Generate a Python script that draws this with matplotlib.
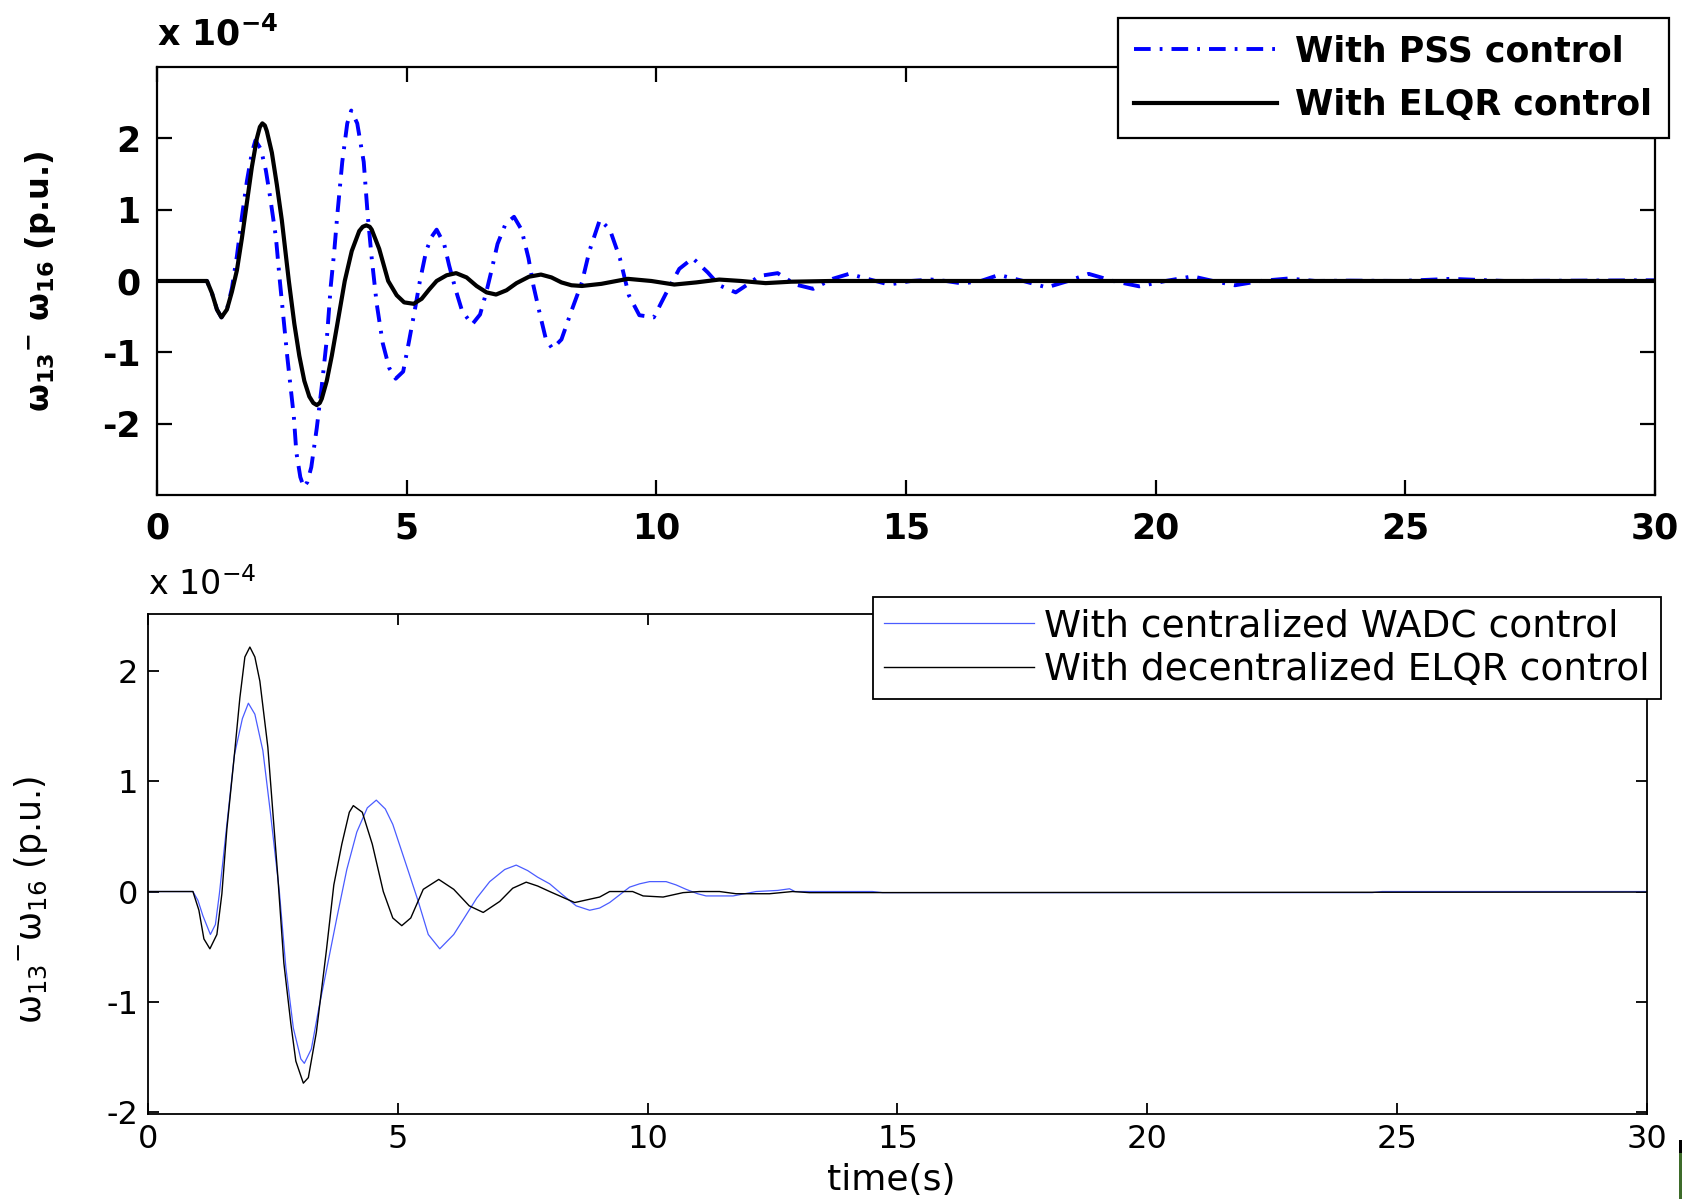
import matplotlib
matplotlib.use("Agg")
import matplotlib.pyplot as plt
from matplotlib.patches import Rectangle

plt.rcParams["font.family"] = ["DejaVu Sans"]
plt.rcParams["mathtext.fontset"] = "dejavusans"
plt.rcParams["lines.scale_dashes"] = False
plt.rcParams["axes.unicode_minus"] = False

# ---- top panel: PSS vs ELQR (values in units of 1e-4 p.u.) ----
t_elqr = [0, 1.0, 1.1, 1.2, 1.29, 1.4, 1.5, 1.6, 1.7, 1.8, 1.9, 2.0, 2.06, 2.11, 2.16, 2.2, 2.3,
          2.4, 2.5, 2.64, 2.75, 2.85, 2.95, 3.05, 3.13, 3.2, 3.26, 3.3, 3.4, 3.5, 3.6, 3.76, 3.9,
          4.05, 4.12, 4.19, 4.26, 4.3, 4.45, 4.63, 4.8, 4.95, 5.14, 5.3, 5.45, 5.6, 5.8, 5.99, 6.2,
          6.4, 6.6, 6.79, 7.0, 7.2, 7.45, 7.69, 7.9, 8.1, 8.3, 8.51, 8.9, 9.43, 9.9,
          10.36, 10.8, 11.26, 11.7, 12.19, 12.7, 13.5, 30]
v_elqr = [0, 0, -0.17, -0.4, -0.51, -0.4, -0.15, 0.15, 0.6, 1.1, 1.6, 2.0, 2.16, 2.21, 2.18, 2.1, 1.8,
          1.35, 0.85, 0.0, -0.6, -1.05, -1.4, -1.62, -1.71, -1.74, -1.71, -1.65, -1.4, -1.05, -0.65, 0.0, 0.42,
          0.7, 0.76, 0.78, 0.76, 0.72, 0.45, 0.0, -0.2, -0.3, -0.32, -0.25, -0.12, 0.0, 0.08, 0.11, 0.05,
          -0.07, -0.16, -0.19, -0.13, -0.03, 0.06, 0.09, 0.05, -0.02, -0.06, -0.07, -0.04, 0.03, 0.0,
          -0.05, -0.02, 0.02, 0.0, -0.03, -0.01, 0.0, 0.0]

t_pss = [0, 1.0, 1.1, 1.2, 1.29, 1.4, 1.5, 1.6, 1.7, 1.8, 1.9, 1.97, 2.08, 2.18, 2.26, 2.38,
         2.46, 2.61, 2.74, 2.79, 2.87, 2.94, 3.01, 3.09, 3.2, 3.3, 3.4, 3.48, 3.55, 3.61, 3.71, 3.81,
         3.89, 4.01, 4.14, 4.22, 4.3, 4.4, 4.52, 4.65, 4.78, 4.93, 5.04, 5.16, 5.26, 5.39,
         5.5, 5.6, 5.75, 5.85, 5.98, 6.11, 6.31, 6.47, 6.59, 6.69, 6.82, 6.98, 7.15, 7.3,
         7.44, 7.54, 7.67, 7.79, 7.92, 8.1, 8.3, 8.51, 8.66, 8.87, 9.07, 9.27, 9.45, 9.66,
         9.95, 10.19, 10.46, 10.73, 11.03, 11.26, 11.59, 11.89, 12.06, 12.43, 12.79, 13.14,
         13.53, 13.86, 14.23, 14.66, 15.1, 15.51, 15.8, 16.13, 16.5, 16.86, 17.35, 17.82,
         18.25, 18.66, 19.15, 19.67, 20.2, 20.74, 21.15, 21.59, 22.1, 22.66, 23.2, 23.9,
         24.9, 25.92, 27.0, 30]
v_pss = [0, 0, -0.17, -0.4, -0.51, -0.4, -0.1, 0.35, 0.9, 1.4, 1.8, 1.97, 1.85, 1.55, 1.2, 0.62,
         0.0, -1.07, -1.9, -2.4, -2.75, -2.89, -2.82, -2.61, -2.06, -1.47, -0.82, -0.07, 0.42, 0.92, 1.67, 2.21,
         2.39, 2.21, 1.67, 0.92, 0.32, -0.32, -0.87, -1.22, -1.37, -1.27, -0.87, -0.42, -0.02, 0.42,
         0.62, 0.72, 0.52, 0.22, -0.12, -0.42, -0.61, -0.47, -0.17, 0.12, 0.52, 0.8, 0.9, 0.72,
         0.32, -0.07, -0.47, -0.82, -0.95, -0.82, -0.42, -0.02, 0.42, 0.86, 0.72, 0.32, -0.2, -0.48,
         -0.51, -0.18, 0.17, 0.32, 0.12, -0.06, -0.16, -0.02, 0.07, 0.11, -0.05, -0.11,
         0.03, 0.1, 0.03, -0.05, 0.0, 0.02, 0.0, -0.035, 0.0, 0.085, 0.0, -0.09,
         0.0, 0.1, 0.0, -0.075, 0.0, 0.065, 0.0, -0.06, 0.0, 0.035, 0.0, 0.005,
         0.0, 0.03, 0.0, 0.01]

# ---- bottom panel: centralized WADC vs decentralized ELQR ----
t_wadc = [0, 0.9, 1.0, 1.1, 1.25, 1.35, 1.43, 1.58, 1.73, 1.89, 2.01, 2.14, 2.3, 2.45, 2.63,
          2.76, 2.91, 3.06, 3.13, 3.27, 3.42, 3.57, 3.78, 3.98, 4.18, 4.39, 4.57, 4.75, 4.9,
          5.2, 5.41, 5.61, 5.84, 6.12, 6.33, 6.58, 6.84, 7.14, 7.37, 7.6, 7.8, 8.04, 8.3,
          8.57, 8.84, 9.04, 9.24, 9.44, 9.64, 9.84, 10.04, 10.37, 10.57, 10.77, 11.0, 11.17,
          11.71, 12.17, 12.6, 12.84, 12.95, 13.5, 14.5, 14.7, 15.0, 24.5, 24.7, 30]
v_wadc = [0, 0, -0.08, -0.22, -0.39, -0.3, -0.02, 0.61, 1.24, 1.57, 1.71, 1.61, 1.28, 0.72, 0.0,
          -0.69, -1.24, -1.52, -1.56, -1.43, -1.06, -0.72, -0.24, 0.2, 0.54, 0.76, 0.83, 0.75, 0.61,
          0.2, -0.09, -0.39, -0.52, -0.39, -0.24, -0.06, 0.09, 0.2, 0.24, 0.19, 0.13, 0.07, -0.03,
          -0.13, -0.17, -0.15, -0.1, -0.03, 0.04, 0.07, 0.09, 0.09, 0.06, 0.02, -0.02, -0.04,
          -0.04, 0.0, 0.01, 0.025, 0.0, 0.0, 0.0, -0.01, -0.01, -0.01, 0.0, 0.0]

t_delqr = [0, 0.9, 1.02, 1.12, 1.24, 1.38, 1.48, 1.58, 1.73, 1.84, 1.94, 2.04, 2.14, 2.24, 2.4,
           2.6, 2.72, 2.86, 2.96, 3.11, 3.21, 3.37, 3.57, 3.72, 3.88, 4.03, 4.11, 4.29, 4.49,
           4.71, 4.9, 5.08, 5.26, 5.51, 5.82, 6.12, 6.43, 6.71, 7.04, 7.3, 7.57, 7.8, 8.04,
           8.54, 9.04, 9.24, 9.7, 9.91, 10.31, 10.71, 11.04, 11.44, 11.77, 12.44, 12.9, 13.24, 30]
v_delqr = [0, 0, -0.17, -0.43, -0.52, -0.39, -0.02, 0.57, 1.24, 1.76, 2.13, 2.22, 2.13, 1.91, 1.31,
           0.13, -0.65, -1.2, -1.54, -1.74, -1.69, -1.28, -0.54, 0.06, 0.43, 0.72, 0.78, 0.72, 0.43,
           0.0, -0.24, -0.31, -0.24, 0.02, 0.11, 0.02, -0.13, -0.19, -0.09, 0.03, 0.085, 0.05, 0.0,
           -0.1, -0.05, 0.0, 0.0, -0.04, -0.05, -0.01, 0.0, 0.0, -0.02, -0.02, 0.0, -0.01, -0.005]

x_ticks = [0, 5, 10, 15, 20, 25, 30]
y_ticks = [-2, -1, 0, 1, 2]

fig = plt.figure(figsize=(16.83, 11.99), dpi=100)

# ---------------- top axes ----------------
ax1 = fig.add_axes([0.0933, 0.5872, 0.8900, 0.3569])
ax1.plot(t_pss, v_pss, color="#0000ff", lw=2.8, dashes=(12, 6.5, 2, 6.5),
         label="With PSS control")
ax1.plot(t_elqr, v_elqr, color="black", lw=3.0, label="With ELQR control")
ax1.set_xlim(0, 30)
ax1.set_ylim(-3, 3)
ax1.set_xticks(x_ticks)
ax1.set_yticks(y_ticks)
ax1.tick_params(direction="in", top=True, right=True, length=11, width=1.6,
                labelsize=25, pad=12)
for lab in ax1.get_xticklabels() + ax1.get_yticklabels():
    lab.set_fontweight("bold")
for s in ax1.spines.values():
    s.set_linewidth(1.6)
ax1.set_ylabel(r"ω$_{\mathbf{13}}$$^{\mathbf{-}}$ ω$_{\mathbf{16}}$ (p.u.)",
               fontsize=23, fontweight="bold")
ax1.yaxis.set_label_coords(-0.066, 0.5)
ax1.text(0.0, 1.035, r"x 10$^{\mathbf{-4}}$", transform=ax1.transAxes,
         fontsize=25, fontweight="bold", ha="left", va="bottom")
leg1 = ax1.legend(loc="upper right", bbox_to_anchor=(0.9917, 0.985),
                  bbox_transform=fig.transFigure, borderaxespad=0,
                  fancybox=False, framealpha=1, edgecolor="black",
                  handlelength=4.1, prop={"size": 25, "weight": "bold"},
                  borderpad=0.48, labelspacing=0.55, handletextpad=0.54)
leg1.get_frame().set_linewidth(1.6)
leg1.set_zorder(5)

# ---------------- bottom axes ----------------
ax2 = fig.add_axes([0.0879, 0.0709, 0.8907, 0.4170])
ax2.plot(t_wadc, v_wadc, color="#4a5cff", lw=0.9, label="With centralized WADC control")
ax2.plot(t_delqr, v_delqr, color="black", lw=1.0, label="With decentralized ELQR control")
ax2.set_xlim(0, 30)
ax2.set_ylim(-2.02, 2.52)
ax2.set_xticks(x_ticks)
ax2.set_yticks(y_ticks)
ax2.tick_params(direction="in", top=True, right=True, length=8, width=1.3,
                labelsize=23, pad=7)
for s in ax2.spines.values():
    s.set_linewidth(1.3)
ax2.set_ylabel(r"ω$_{13}$$^{-}$ω$_{16}$ (p.u.)", fontsize=25)
ax2.yaxis.set_label_coords(-0.065, 0.428)
ax2.set_xlabel("time(s)", fontsize=26)
ax2.xaxis.set_label_coords(0.496, -0.098)
ax2.text(0.0, 1.025, r"x 10$^{-4}$", transform=ax2.transAxes,
         fontsize=24, ha="left", va="bottom")
leg2 = ax2.legend(loc="upper right", bbox_to_anchor=(0.9869, 0.5021),
                  bbox_transform=fig.transFigure, borderaxespad=0,
                  fancybox=False, framealpha=1, edgecolor="black",
                  handlelength=4.0, prop={"size": 27},
                  borderpad=0.3, labelspacing=0.2, handletextpad=0.26)
leg2.get_frame().set_linewidth(1.3)

# small scan artefact at the lower right edge
fig.patches.append(Rectangle((0.9976, 0.0), 0.0024, 0.049, transform=fig.transFigure,
                             facecolor="#3d6b2a", edgecolor="none"))
fig.patches.append(Rectangle((0.9976, 0.038), 0.0024, 0.011, transform=fig.transFigure,
                             facecolor="black", edgecolor="none"))

fig.savefig("out.png", dpi=100)
